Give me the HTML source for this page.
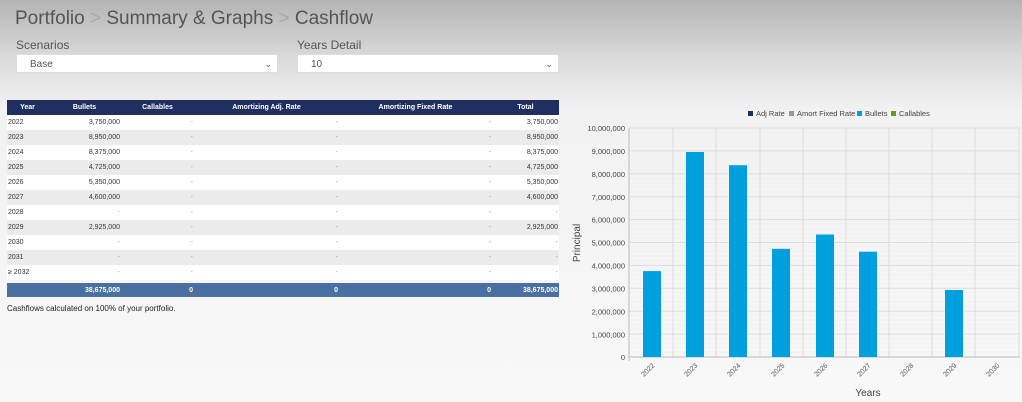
<!DOCTYPE html>
<html><head><style>
body{margin:0;width:1022px;height:402px;overflow:hidden;background:linear-gradient(#b4b4b4 0px,#dcdcdc 60px,#f2f2f2 110px,#f8f8f8 402px);font-family:"Liberation Sans",sans-serif;position:relative}
.a{position:absolute}
h1{position:absolute;left:15px;top:8px;margin:0;font-weight:normal;font-size:19px;color:#555}
h1 span{color:#aaa}
.lbl{font-size:12px;color:#555}
.sel{background:#fff;border:1px solid #ddd;height:19px;font-size:10px;color:#555;line-height:19px;box-sizing:border-box;padding-left:13px}
.sel i{position:absolute;right:5px;top:0;font-style:normal;font-size:9px}
table{position:absolute;left:7px;top:100px;width:552px;border-collapse:collapse;font-size:7px;color:#333;table-layout:fixed}
td,th{height:15px;padding:0 1px;box-sizing:border-box}
th{background:#1f3060;color:#fff;font-size:7px}
tr:nth-child(odd) td{background:#ebebeb}
tr:nth-child(even) td{background:#fff}
td{text-align:right;color:#333}
td:first-child{text-align:left}
td.d{color:#999}
tr.gap td{height:3px;background:transparent!important}
tr.tot td{background:#4a6fa1!important;color:#fff;font-weight:bold;height:14px}
</style></head><body>
<h1>Portfolio <span>&gt;</span> Summary &amp; Graphs <span>&gt;</span> Cashflow</h1>
<div class="a lbl" style="left:16px;top:38px">Scenarios</div>
<div class="a lbl" style="left:297px;top:38px">Years Detail</div>
<div class="a sel" style="left:16px;top:54px;width:262px">Base<i>⌄</i></div>
<div class="a sel" style="left:297px;top:54px;width:262px">10<i>⌄</i></div>
<table>
<colgroup><col style="width:41px"><col style="width:73px"><col style="width:73px"><col style="width:145px"><col style="width:153px"><col style="width:67px"></colgroup>
<tr><th>Year</th><th>Bullets</th><th>Callables</th><th>Amortizing Adj. Rate</th><th>Amortizing Fixed Rate</th><th>Total</th></tr>
<tr><td>2022</td><td>3,750,000</td><td class="d">-</td><td class="d">-</td><td class="d">-</td><td>3,750,000</td></tr>
<tr><td>2023</td><td>8,950,000</td><td class="d">-</td><td class="d">-</td><td class="d">-</td><td>8,950,000</td></tr>
<tr><td>2024</td><td>8,375,000</td><td class="d">-</td><td class="d">-</td><td class="d">-</td><td>8,375,000</td></tr>
<tr><td>2025</td><td>4,725,000</td><td class="d">-</td><td class="d">-</td><td class="d">-</td><td>4,725,000</td></tr>
<tr><td>2026</td><td>5,350,000</td><td class="d">-</td><td class="d">-</td><td class="d">-</td><td>5,350,000</td></tr>
<tr><td>2027</td><td>4,600,000</td><td class="d">-</td><td class="d">-</td><td class="d">-</td><td>4,600,000</td></tr>
<tr><td>2028</td><td class="d">-</td><td class="d">-</td><td class="d">-</td><td class="d">-</td><td class="d">-</td></tr>
<tr><td>2029</td><td>2,925,000</td><td class="d">-</td><td class="d">-</td><td class="d">-</td><td>2,925,000</td></tr>
<tr><td>2030</td><td class="d">-</td><td class="d">-</td><td class="d">-</td><td class="d">-</td><td class="d">-</td></tr>
<tr><td>2031</td><td class="d">-</td><td class="d">-</td><td class="d">-</td><td class="d">-</td><td class="d">-</td></tr>
<tr><td>≥ 2032</td><td class="d">-</td><td class="d">-</td><td class="d">-</td><td class="d">-</td><td class="d">-</td></tr>
<tr class="gap"><td></td><td></td><td></td><td></td><td></td><td></td></tr>
<tr class="tot"><td></td><td>38,675,000</td><td>0</td><td>0</td><td>0</td><td>38,675,000</td></tr>
</table>
<div class="a" style="left:7px;top:304px;font-size:8px;color:#222">Cashflows calculated on 100% of your portfolio.</div>
<svg class="a" style="left:0;top:0" width="1022" height="402" font-family="Liberation Sans,sans-serif">
<g font-size="7.5" fill="#444">
<rect x="748" y="111" width="5" height="5" fill="#1f3060"/><text x="756" y="116">Adj Rate</text>
<rect x="789" y="111" width="5" height="5" fill="#999"/><text x="797" y="116">Amort Fixed Rate</text>
<rect x="857" y="111" width="5" height="5" fill="#00a0de"/><text x="865" y="116">Bullets</text>
<rect x="891" y="111" width="5" height="5" fill="#6a9a1f"/><text x="899" y="116">Callables</text>
</g>
<g stroke="#eee" stroke-width="0.6">
<path d="M629 132.6H1020M629 137.2H1020M629 141.7H1020M629 146.3H1020M629 155.5H1020M629 160H1020M629 164.6H1020M629 169.2H1020M629 178.3H1020M629 182.9H1020M629 187.5H1020M629 192H1020M629 201.2H1020M629 205.8H1020M629 210.3H1020M629 214.9H1020M629 224H1020M629 228.6H1020M629 233.2H1020M629 237.8H1020M629 246.9H1020M629 251.5H1020M629 256H1020M629 260.6H1020M629 269.8H1020M629 274.3H1020M629 278.9H1020M629 283.5H1020M629 292.6H1020M629 297.2H1020M629 301.8H1020M629 306.3H1020M629 315.5H1020M629 320H1020M629 324.6H1020M629 329.2H1020M629 338.3H1020M629 342.9H1020M629 347.5H1020M629 352H1020"/>
</g>
<g stroke="#ddd" stroke-width="1">
<path d="M629 128H1020M629 150.9H1020M629 173.8H1020M629 196.7H1020M629 219.6H1020M629 242.5H1020M629 265.4H1020M629 288.3H1020M629 311.2H1020M629 334.1H1020"/>
<path d="M673 128V357M716 128V357M760 128V357M803 128V357M846 128V357M889 128V357M932 128V357M975 128V357M1019 128V357"/>
</g>
<path d="M629 128V361M629 357H1020" stroke="#bbb" fill="none"/>
<g fill="#00a0de">
<rect x="643" y="271.1" width="18" height="85.9"/>
<rect x="686" y="152" width="18" height="205"/>
<rect x="729" y="165.2" width="18" height="191.8"/>
<rect x="772" y="248.8" width="18" height="108.2"/>
<rect x="816" y="234.5" width="18" height="122.5"/>
<rect x="859" y="251.7" width="18" height="105.3"/>
<rect x="945" y="290" width="18" height="67"/>
</g>
<g font-size="7.5" fill="#444" text-anchor="end">
<text x="625" y="131">10,000,000</text><text x="625" y="154">9,000,000</text><text x="625" y="177">8,000,000</text><text x="625" y="200">7,000,000</text><text x="625" y="222.5">6,000,000</text><text x="625" y="245.5">5,000,000</text><text x="625" y="268.5">4,000,000</text><text x="625" y="291.5">3,000,000</text><text x="625" y="314.5">2,000,000</text><text x="625" y="337.5">1,000,000</text><text x="625" y="360">0</text>
</g>
<g font-size="7" fill="#555" text-anchor="end">
<text transform="translate(655,366) rotate(-45)">2022</text><text transform="translate(698,366) rotate(-45)">2023</text><text transform="translate(741,366) rotate(-45)">2024</text><text transform="translate(785,366) rotate(-45)">2025</text><text transform="translate(828,366) rotate(-45)">2026</text><text transform="translate(871,366) rotate(-45)">2027</text><text transform="translate(914,366) rotate(-45)">2028</text><text transform="translate(957,366) rotate(-45)">2029</text><text transform="translate(1000,366) rotate(-45)">2030</text>
</g>
<text x="868" y="396" font-size="10" fill="#444" text-anchor="middle">Years</text>
<text transform="translate(580,243) rotate(-90)" font-size="10" fill="#444" text-anchor="middle">Principal</text>
</svg>
</body></html>
